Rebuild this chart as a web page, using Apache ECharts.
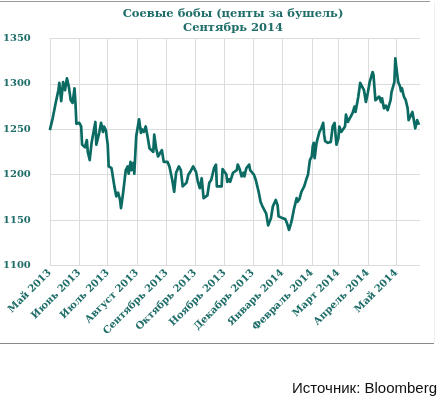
<!DOCTYPE html>
<html>
<head>
<meta charset="utf-8">
<script src="https://cdn.jsdelivr.net/npm/echarts@6/dist/echarts.min.js"></script>
<style>html,body{margin:0;padding:0;background:#fff;}#c{width:441px;height:399px;}</style>
</head>
<body>
<div id="c"></div>
<script>
// Axis start date and length (calendar days from 1 May 2013)
const startDate = [2013, 4, 1];
const totalDays = 391;
const monthNames = ['Январь','Февраль','Март','Апрель','Май','Июнь','Июль','Август','Сентябрь','Октябрь','Ноябрь','Декабрь'];
const yTicks = [1100, 1150, 1200, 1250, 1300, 1350];

// Day offset from 1 May 2013 and price (cents per bushel)
const dayOffsets = [0,3,6,9,10,12,14,16,18,20,22,24,26,27,28,31,33,34,37,39,40,42,44,48,49,52,54,56,57,59,61,62,65,68,70,72,74,75,77,80,82,83,85,86,88,89,91,94,96,97,99,101,103,105,107,109,110,112,114,116,118,120,122,124,126,129,131,133,136,138,140,142,144,146,148,151,152,154,156,158,160,162,164,166,168,170,173,175,176,178,181,182,184,186,187,189,190,193,195,197,198,200,202,204,205,207,210,211,213,215,217,218,220,222,224,226,228,230,232,233,235,238,240,241,243,245,247,248,250,252,254,255,257,260,261,263,265,266,268,270,272,274,276,277,278,279,281,282,284,286,288,289,290,292,293,295,296,298,300,301,302,304,305,307,309,311,312,314,316,317,319,321,322,324,325,327,329,331,333,335,337,339,340,341,343,345,347,349,350,352,354,356,357,359,360,362,363,364,365,367,369,370,371,373,375,377,378,380,382,384,385,387,389];
const prices = [1249,1262,1278,1293,1301,1281,1302,1293,1306,1297,1282,1279,1295,1279,1256,1257,1253,1233,1230,1238,1225,1216,1235,1258,1233,1246,1257,1247,1253,1249,1233,1209,1207,1187,1176,1180,1172,1163,1178,1205,1209,1201,1214,1205,1213,1201,1242,1261,1246,1250,1247,1253,1242,1229,1227,1225,1244,1229,1220,1218,1227,1214,1212,1214,1209,1194,1181,1202,1209,1205,1187,1189,1191,1200,1203,1209,1207,1203,1192,1185,1196,1174,1176,1177,1191,1194,1207,1211,1187,1187,1187,1206,1206,1200,1192,1195,1192,1202,1200,1205,1211,1206,1198,1202,1198,1207,1211,1205,1205,1200,1194,1192,1181,1170,1165,1164,1157,1144,1143,1152,1165,1172,1166,1154,1152,1152,1150,1151,1146,1139,1146,1150,1161,1174,1170,1173,1181,1182,1187,1194,1200,1216,1220,1231,1235,1218,1235,1235,1247,1251,1257,1244,1237,1238,1235,1233,1236,1253,1257,1244,1233,1240,1253,1247,1249,1253,1266,1258,1258,1264,1268,1275,1269,1280,1286,1301,1297,1293,1280,1290,1302,1302,1313,1310,1282,1284,1286,1280,1284,1273,1276,1271,1275,1282,1291,1290,1302,1328,1319,1302,1297,1292,1295,1286,1282,1273,1260,1262,1269,1271,1251,1260,1255];

// Build calendar-day categories
const categories = [];
const isMonthStart = [];
for (let i = 0; i < totalDays; i++) {
  const d = new Date(startDate[0], startDate[1], startDate[2] + i);
  categories.push(monthNames[d.getMonth()] + ' ' + d.getFullYear());
  isMonthStart.push(d.getDate() === 1);
}
const seriesData = dayOffsets.map((d, i) => [d, prices[i]]);

const teal = '#1f6d69';
const serif = '"DejaVu Serif", "Liberation Serif", serif';
const chart = echarts.init(document.getElementById('c'), null, {renderer: 'canvas'});
chart.setOption({
  animation: false,
  backgroundColor: '#fff',
  title: {
    text: 'Соевые бобы (центы за бушель)\nСентябрь 2014',
    left: 228, top: 2, textAlign: 'center',
    textStyle: {fontFamily: serif, fontWeight: 'bold', fontSize: 11.5, color: teal, lineHeight: 14}
  },
  grid: {left: 49, right: 21, top: 38.5, bottom: 133.7, containLabel: false},
  xAxis: {
    type: 'category',
    data: categories,
    boundaryGap: false,
    axisLine: {show: false},
    axisTick: {show: false},
    splitLine: {show: true, interval: (i) => isMonthStart[i], lineStyle: {color: '#dcdcdc', width: 1}},
    axisLabel: {
      interval: (i) => isMonthStart[i],
      rotate: 45, margin: 6,
      fontFamily: serif, fontWeight: 'bold', fontSize: 10, color: teal
    }
  },
  yAxis: {
    type: 'value', min: yTicks[0], max: yTicks[yTicks.length - 1], interval: 50,
    axisLine: {show: false}, axisTick: {show: false},
    splitLine: {lineStyle: {color: '#dcdcdc', width: 1}},
    axisLabel: {margin: 19, formatter: (v) => String(v), fontFamily: serif, fontWeight: 'bold', fontSize: 10, color: teal}
  },
  series: [{
    type: 'line', data: seriesData, showSymbol: false, symbol: 'none',
    lineStyle: {color: '#0b6b63', width: 2.7, join: 'round'}
  }],
  graphic: [
    {type: 'line', shape: {x1: 0, y1: 1.5, x2: 430, y2: 1.5}, style: {stroke: '#9a9a9a', lineWidth: 1}},
    {type: 'line', shape: {x1: 0, y1: 343.5, x2: 434, y2: 343.5}, style: {stroke: '#8a8a8a', lineWidth: 1}},
    {type: 'line', shape: {x1: 434.5, y1: 2, x2: 434.5, y2: 343}, style: {stroke: '#f0f0f0', lineWidth: 1}},
    {type: 'text', right: 4, top: 381, style: {text: 'Источник: Bloomberg', font: '15px "Liberation Sans", Arial, sans-serif', fill: '#111'}}
  ]
});
</script>
</body>
</html>
